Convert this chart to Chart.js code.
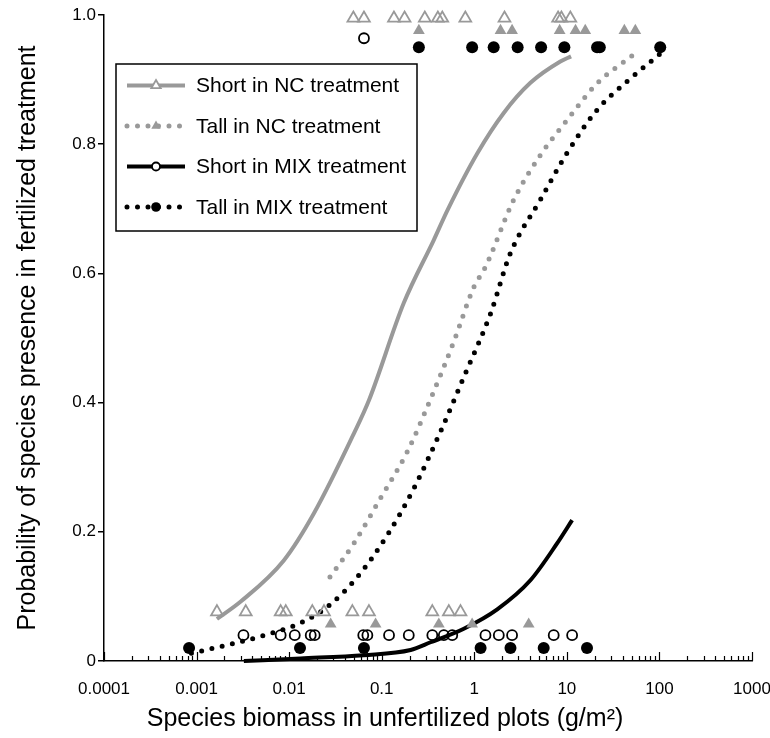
<!DOCTYPE html>
<html>
<head>
<meta charset="utf-8">
<script src="https://cdn.jsdelivr.net/npm/chart.js@4"></script>
<style>
  html, body { margin: 0; padding: 0; background: #fff; }
</style>
</head>
<body>
<canvas id="chart" width="770" height="738"></canvas>
<script>
// axis ticks
const xDecades = [0.0001, 0.001, 0.01, 0.1, 1, 10, 100, 1000];
const xTickLabels = ['0.0001', '0.001', '0.01', '0.1', '1', '10', '100', '1000'];
const yTicks = [0, 0.2, 0.4, 0.6, 0.8, 1.0];
const yTickLabels = ['0', '0.2', '0.4', '0.6', '0.8', '1.0'];

// fitted curves (biomass g/m2 -> probability)
const shortNcX = [0.00166, 0.0030, 0.0088, 0.0186, 0.050, 0.073, 0.173, 0.366, 0.514, 1.08, 2.07, 4.04, 8.5, 11.1];
const shortNcY = [0.065, 0.092, 0.156, 0.229, 0.352, 0.404, 0.554, 0.652, 0.698, 0.786, 0.848, 0.895, 0.928, 0.936];

const tallNcX = [0.0276, 0.050, 0.097, 0.189, 0.352, 0.60, 0.99, 1.30, 2.67, 5.18, 10.0, 21.2, 50.5];
const tallNcY = [0.130, 0.182, 0.252, 0.324, 0.412, 0.494, 0.579, 0.608, 0.714, 0.783, 0.837, 0.894, 0.937];

const shortMixX = [0.00324, 0.0133, 0.0638, 0.205, 0.337, 0.771, 1.77, 4.04, 7.84, 11.4];
const shortMixY = [0.0, 0.004, 0.009, 0.017, 0.029, 0.050, 0.080, 0.125, 0.182, 0.218];

const tallMixX = [0.00088, 0.00234, 0.0049, 0.0133, 0.0259, 0.0546, 0.115, 0.222, 0.431, 0.80, 1.50, 2.45, 5.18, 10.0, 21.2, 44.6, 102];
const tallMixY = [0.012, 0.026, 0.038, 0.059, 0.084, 0.130, 0.195, 0.267, 0.355, 0.445, 0.538, 0.631, 0.714, 0.786, 0.853, 0.897, 0.940];

// observed species: present (top rows) / absent (bottom rows)
const shortNcPresent = [0.0494, 0.0643, 0.1355, 0.1766, 0.292, 0.404, 0.451, 0.80, 2.12, 8.04, 8.73, 10.9];
const shortNcAbsent = [0.00166, 0.0034, 0.0081, 0.0092, 0.0178, 0.0238, 0.0482, 0.0728, 0.352, 0.531, 0.71];
const tallNcPresent = [0.252, 1.92, 2.56, 8.36, 12.4, 15.8, 41.8, 54.9];
const tallNcAbsent = [0.0281, 0.0859, 0.414, 0.948, 3.87];
const shortMixPresent = [0.0643];
const shortMixAbsent = [0.00321, 0.0081, 0.0115, 0.0171, 0.0189, 0.0632, 0.070, 0.120, 0.196, 0.352, 0.469, 0.578, 1.32, 1.84, 2.56, 7.21, 11.4];
const tallMixPresent = [0.252, 0.948, 1.62, 2.94, 5.27, 9.4, 21.2, 22.7, 102];
const tallMixAbsent = [0.00083, 0.0131, 0.0643, 1.17, 2.46, 5.62, 16.5];

// row levels used to show present / absent species
const shortNcRows = [0.995, 0.076];
const tallNcRows = [0.976, 0.057];
const shortMixRows = [0.964, 0.04];
const tallMixRows = [0.95, 0.02];

const grey = '#999999';
const black = '#000000';
const fontFamily = "'Liberation Sans', Arial, Helvetica, sans-serif";

function curve(xs, ys) {
  return xs.map((x, i) => ({ x: x, y: ys[i] }));
}
function marks(present, absent, rows) {
  return present.map(x => ({ x: x, y: rows[0] })).concat(absent.map(x => ({ x: x, y: rows[1] })));
}

function lineSet(label, xs, ys, color, dotted) {
  return {
    label: label,
    data: curve(xs, ys),
    showLine: true,
    borderColor: color,
    borderWidth: dotted ? 5 : 4,
    borderDash: dotted ? [0, 10.5] : [],
    borderCapStyle: dotted ? 'round' : 'butt',
    cubicInterpolationMode: 'monotone',
    pointRadius: 0,
    clip: false
  };
}
function markSet(label, data, style, color, filled, radius) {
  return {
    label: label,
    data: data,
    showLine: false,
    pointStyle: style,
    pointRadius: radius,
    pointBorderColor: color,
    pointBackgroundColor: filled ? color : 'rgba(0,0,0,0)',
    pointBorderWidth: filled ? 0 : 1.8,
    clip: false
  };
}

const datasets = [
  markSet('Short in NC treatment', marks(shortNcPresent, shortNcAbsent, shortNcRows), 'triangle', grey, false, 6.8),
  markSet('Tall in NC treatment', marks(tallNcPresent, tallNcAbsent, tallNcRows), 'triangle', grey, true, 6.8),
  markSet('Short in MIX treatment', marks(shortMixPresent, shortMixAbsent, shortMixRows), 'circle', black, false, 5),
  markSet('Tall in MIX treatment', marks(tallMixPresent, tallMixAbsent, tallMixRows), 'circle', black, true, 6),
  lineSet('Short in NC treatment', shortNcX, shortNcY, grey, false),
  lineSet('Tall in NC treatment', tallNcX, tallNcY, grey, true),
  lineSet('Short in MIX treatment', shortMixX, shortMixY, black, false),
  lineSet('Tall in MIX treatment', tallMixX, tallMixY, black, true)
];

// x ticks drawn inward (upwards) from the axis line
const innerTicks = {
  id: 'innerTicks',
  afterDraw(chart) {
    const sx = chart.scales.x;
    const ctx = chart.ctx;
    const base = chart.chartArea.bottom;
    ctx.save();
    ctx.strokeStyle = '#000';
    ctx.lineWidth = 1.2;
    sx.ticks.forEach(t => {
      const px = Math.round(sx.getPixelForValue(t.value)) + 0.5;
      ctx.beginPath();
      ctx.moveTo(px, base);
      ctx.lineTo(px, base - (t.major ? 9 : 5));
      ctx.stroke();
    });
    ctx.restore();
  }
};

// boxed legend in the upper left of the plot
const boxLegend = {
  id: 'boxLegend',
  afterDraw(chart) {
    const ctx = chart.ctx;
    const ds = chart.data.datasets;
    ctx.save();
    ctx.fillStyle = '#fff';
    ctx.fillRect(116, 64, 301, 167);
    ctx.strokeStyle = '#000';
    ctx.lineWidth = 1.5;
    ctx.strokeRect(116, 64, 301, 167);
    for (let i = 0; i < 4; i++) {
      const mark = ds[i];
      const line = ds[i + 4];
      const y = 85.5 + i * 40.5;
      ctx.beginPath();
      ctx.setLineDash(line.borderDash);
      ctx.lineCap = line.borderCapStyle;
      ctx.strokeStyle = line.borderColor;
      ctx.lineWidth = line.borderWidth;
      ctx.moveTo(127, y);
      ctx.lineTo(185, y);
      ctx.stroke();
      ctx.setLineDash([]);
      ctx.lineCap = 'butt';
      ctx.fillStyle = mark.pointBackgroundColor === 'rgba(0,0,0,0)' ? '#fff' : mark.pointBackgroundColor;
      ctx.strokeStyle = mark.pointBorderColor;
      ctx.lineWidth = mark.pointBorderWidth;
      Chart.helpers.drawPoint(ctx, {
        pointStyle: mark.pointStyle,
        radius: mark.pointRadius * 0.8,
        borderWidth: mark.pointBorderWidth,
        rotation: 0
      }, 156, y);
      ctx.fillStyle = '#000';
      ctx.font = '21px ' + fontFamily;
      ctx.textBaseline = 'middle';
      ctx.textAlign = 'left';
      ctx.fillText(mark.label, 196, y + 1);
    }
    ctx.restore();
  }
};

new Chart(document.getElementById('chart'), {
  type: 'scatter',
  data: { datasets: datasets },
  plugins: [innerTicks, boxLegend],
  options: {
    responsive: false,
    animation: false,
    layout: { padding: { top: 15, right: 0, left: 0, bottom: 0 } },
    plugins: {
      legend: { display: false },
      tooltip: { enabled: false },
      title: {
        display: true,
        position: 'bottom',
        text: 'Species biomass in unfertilized plots (g/m\u00b2)',
        color: '#000',
        font: { family: fontFamily, size: 25, weight: 'normal' },
        padding: { top: 2, bottom: 4 }
      }
    },
    scales: {
      x: {
        type: 'logarithmic',
        min: 0.0001,
        max: 1000,
        afterBuildTicks: (scale) => {
          const t = [];
          xDecades.forEach((d, i) => {
            t.push({ value: d, major: true });
            if (i < xDecades.length - 1) {
              for (let k = 2; k <= 9; k++) t.push({ value: d * k, major: false });
            }
          });
          scale.ticks = t;
        },
        afterFit: (scale) => {
          scale.height = 41;
          scale.paddingLeft = 0;
          scale.paddingRight = 18;
        },
        grid: { display: false, drawTicks: false },
        border: { display: true, color: '#000', width: 1.5 },
        ticks: {
          autoSkip: false,
          maxRotation: 0,
          padding: 18,
          color: '#000',
          font: { family: fontFamily, size: 17 },
          callback: (value) => {
            const i = xDecades.findIndex(d => Math.abs(Math.log10(value) - Math.log10(d)) < 1e-6);
            return i >= 0 ? xTickLabels[i] : '';
          }
        }
      },
      y: {
        min: 0,
        max: 1,
        afterBuildTicks: (scale) => {
          scale.ticks = yTicks.map(v => ({ value: v }));
        },
        afterFit: (scale) => {
          scale.width = 104;
          scale.paddingTop = 0;
          scale.paddingBottom = 0;
        },
        grid: { display: true, drawOnChartArea: false, drawTicks: true, tickLength: 6, color: '#000', lineWidth: 1.5 },
        border: { display: true, color: '#000', width: 1.5 },
        ticks: {
          padding: 2,
          color: '#000',
          font: { family: fontFamily, size: 17 },
          callback: (value, index) => yTickLabels[index]
        },
        title: {
          display: true,
          text: 'Probability of species presence in fertilized treatment',
          color: '#000',
          font: { family: fontFamily, size: 25 },
          padding: { top: 13, bottom: 0 }
        }
      }
    }
  }
});
</script>
</body>
</html>
